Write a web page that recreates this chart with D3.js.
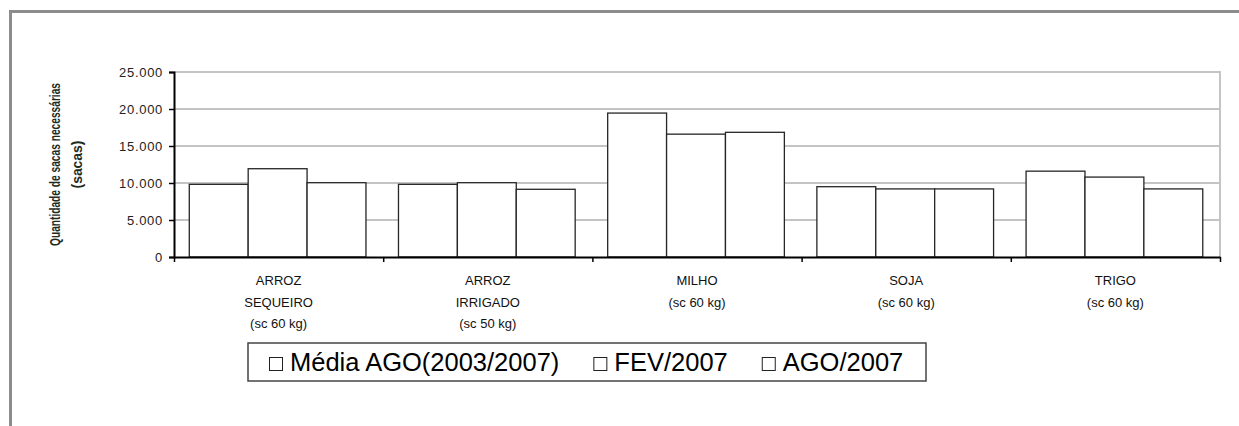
<!DOCTYPE html>
<html>
<head>
<meta charset="utf-8">
<script src="https://cdn.jsdelivr.net/npm/d3@7"></script>
<style>
  html, body { margin: 0; padding: 0; background: #fff; }
  svg { display: block; font-family: "Liberation Sans", Arial, sans-serif; }
</style>
</head>
<body>
<svg id="chart" width="1239" height="426"></svg>
<script>
// ---- data ----
const categories = ["ARROZ SEQUEIRO", "ARROZ IRRIGADO", "MILHO", "SOJA", "TRIGO"];
const categoryLabels = [
  ["ARROZ", "SEQUEIRO", "(sc 60 kg)"],
  ["ARROZ", "IRRIGADO", "(sc 50 kg)"],
  ["MILHO", "(sc 60 kg)"],
  ["SOJA", "(sc 60 kg)"],
  ["TRIGO", "(sc 60 kg)"]
];
const seriesNames = ["Média AGO(2003/2007)", "FEV/2007", "AGO/2007"];
const mediaAgo = [9820, 9820, 19450, 9500, 11600];
const fev2007  = [11930, 10040, 16600, 9200, 10800];
const ago2007  = [10040, 9150, 16850, 9200, 9200];
const yTicks = [0, 5000, 10000, 15000, 20000, 25000];
const yTitleLines = ["Quantidade de sacas necessárias", "(sacas)"];

const seriesValues = [mediaAgo, fev2007, ago2007];

// ---- layout ----
const svg = d3.select("#chart");
const plot = { left: 174, right: 1220, top: 72, bottom: 257 };
const font = '"Liberation Sans", Arial, sans-serif';

// outer frame
svg.append("rect")
  .attr("x", 10.5).attr("y", 11.5)
  .attr("width", 1400).attr("height", 600)
  .attr("fill", "none").attr("stroke", "#8c8c8c").attr("stroke-width", 3);

const y = d3.scaleLinear().domain([0, 25000]).range([plot.bottom, plot.top]);
const x0 = d3.scaleBand().domain(categories).range([plot.left, plot.right]).padding(0);
const x1 = d3.scaleBand().domain(seriesNames).range([0, x0.bandwidth()])
  .paddingInner(0).paddingOuter(0.276).align(0.47);
const xEdge = d3.scaleLinear().domain([0, categories.length]).range([plot.left, plot.right]);

// gridlines
svg.append("g").selectAll("line")
  .data(yTicks.filter(d => d > 0))
  .join("line")
  .attr("x1", plot.left).attr("x2", plot.right)
  .attr("y1", d => y(d)).attr("y2", d => y(d))
  .attr("stroke", "#c4c4c4").attr("stroke-width", 2);

// right plot border
svg.append("line")
  .attr("x1", plot.right).attr("x2", plot.right)
  .attr("y1", y(25000) - 1).attr("y2", plot.bottom)
  .attr("stroke", "#c4c4c4").attr("stroke-width", 2);

// bars
const bars = [];
categories.forEach((c, i) => {
  seriesNames.forEach((s, j) => {
    bars.push({ cat: c, series: s, value: seriesValues[j][i] });
  });
});
svg.append("g").selectAll("rect")
  .data(bars)
  .join("rect")
  .attr("x", d => x0(d.cat) + x1(d.series))
  .attr("y", d => y(d.value))
  .attr("width", x1.bandwidth())
  .attr("height", d => plot.bottom - y(d.value))
  .attr("fill", "#fff")
  .attr("stroke", "#262626")
  .attr("stroke-width", 1.3);

// y axis
const ptFormat = d3.formatLocale({ decimal: ",", thousands: ".", grouping: [3], currency: ["R$", ""] }).format(",d");
const yAxis = svg.append("g")
  .attr("transform", `translate(${plot.left},0)`)
  .call(d3.axisLeft(y).tickValues(yTicks).tickSize(5).tickPadding(6).tickFormat(ptFormat));
yAxis.select(".domain").attr("stroke", "#000").attr("stroke-width", 2);
yAxis.selectAll(".tick line").attr("stroke", "#000").attr("stroke-width", 1.5);
yAxis.selectAll(".tick text")
  .attr("font-family", font).attr("font-size", 13)
  .attr("letter-spacing", "0.7px").attr("fill", "#222");

// x axis (ticks at category boundaries)
const xAxis = svg.append("g")
  .attr("transform", `translate(0,${plot.bottom})`)
  .call(d3.axisBottom(xEdge).tickValues(d3.range(categories.length + 1))
        .tickSize(5).tickSizeOuter(0).tickFormat(""));
xAxis.select(".domain").attr("stroke", "#000").attr("stroke-width", 2);
xAxis.selectAll(".tick line").attr("stroke", "#000").attr("stroke-width", 1.5);

// category labels
const lbl = svg.append("g").selectAll("text")
  .data(categories)
  .join("text")
  .attr("text-anchor", "middle")
  .attr("font-family", font).attr("font-size", 13).attr("fill", "#111");
lbl.each(function(c, i) {
  const t = d3.select(this);
  const cx = x0(c) + x0.bandwidth() / 2;
  categoryLabels[i].forEach((line, k) => {
    t.append("tspan").attr("x", cx).attr("y", 285 + k * 21.6).text(line);
  });
});

// y title (rotated)
const yt = svg.append("text")
  .attr("transform", `translate(55,${(plot.top + plot.bottom) / 2}) rotate(-90)`)
  .attr("text-anchor", "middle")
  .attr("font-family", font).attr("font-size", 14).attr("font-weight", "bold")
  .attr("fill", "#1d2b1d");
yt.append("tspan").attr("x", 0).attr("y", 5).text(yTitleLines[0])
  .attr("textLength", 163).attr("lengthAdjust", "spacingAndGlyphs");
yt.append("tspan").attr("x", 0).attr("y", 27).text(yTitleLines[1])
  .attr("textLength", 48).attr("lengthAdjust", "spacingAndGlyphs");

// legend
const legend = svg.append("g");
const legBox = legend.append("rect")
  .attr("fill", "#fff").attr("stroke", "#444").attr("stroke-width", 1.5);
let lx = 269;
const baseY = 371;
seriesNames.forEach((s, j) => {
  legend.append("rect")
    .attr("x", lx + 0.5).attr("y", baseY - 14 + 0.5)
    .attr("width", 13).attr("height", 13)
    .attr("fill", "#fff").attr("stroke", "#222").attr("stroke-width", 1);
  const t = legend.append("text")
    .attr("x", lx + 21).attr("y", baseY)
    .attr("font-family", font).attr("font-size", 25.5).attr("fill", "#000")
    .text(s);
  const w = t.node().getComputedTextLength();
  lx = lx + 21 + w + 34;
});
legBox.attr("x", 248).attr("y", 343).attr("width", 926 - 248).attr("height", 381 - 343);
</script>
</body>
</html>
